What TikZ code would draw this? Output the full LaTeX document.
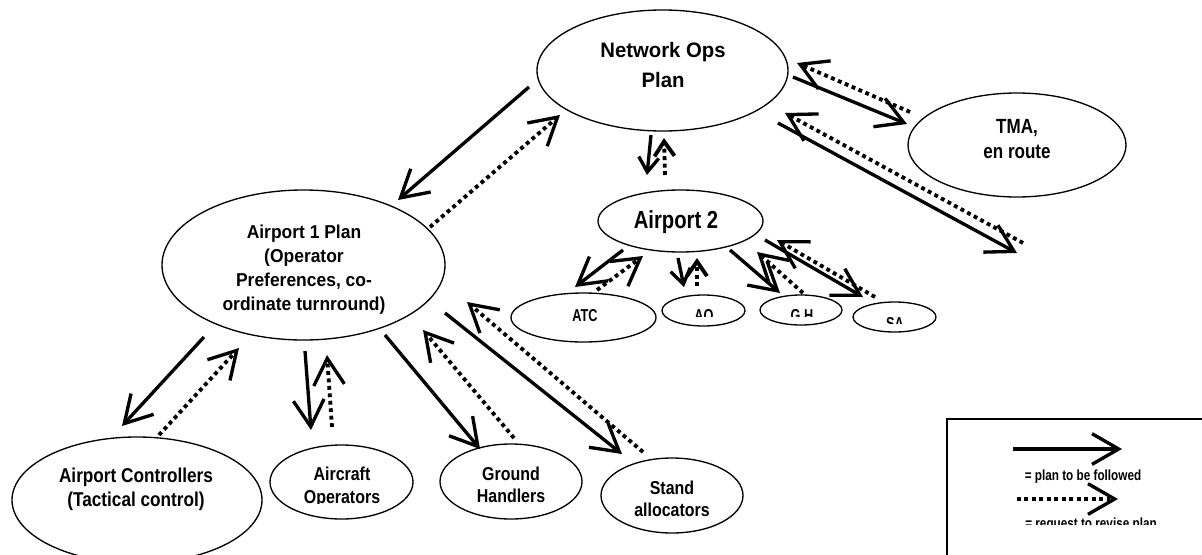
\documentclass[tikz,border=0pt]{standalone}
\usepackage{fontspec}
\setmainfont{Liberation Sans}
\usetikzlibrary{arrows.meta,shapes.geometric}

% Condensed bold faces for the labels
\newfontfamily\famNet[FakeStretch=0.97]{Liberation Sans}
\newfontfamily\famAone[FakeStretch=0.935]{Liberation Sans}
\newfontfamily\famAtwo[FakeStretch=0.82]{Liberation Sans}
\newfontfamily\famTma[FakeStretch=0.83]{Liberation Sans}
\newfontfamily\famCtl[FakeStretch=0.86]{Liberation Sans}
\newfontfamily\famBig[FakeStretch=0.855]{Liberation Sans}
\newfontfamily\famSmall[FakeStretch=0.74]{Liberation Sans}
\newfontfamily\famKey[FakeStretch=0.8]{Liberation Sans}

\tikzset{
  oval/.style 2 args={draw, ellipse, line width=1pt,
    minimum width=#1*0.75pt, minimum height=#2*0.75pt, inner sep=0pt},
  % labels are placed by the baseline of their last line
  lbl/.style={align=center, inner sep=0pt, anchor=base},
  tNet/.style={lbl, font=\famNet\bfseries\fontsize{15.7}{22.5}\selectfont},
  tAone/.style={lbl, font=\famAone\bfseries\fontsize{14}{18.2}\selectfont},
  tAtwo/.style={lbl, font=\famAtwo\bfseries\fontsize{18.5}{22}\selectfont},
  tTma/.style={lbl, font=\famTma\bfseries\fontsize{15.4}{18.75}\selectfont},
  tCtl/.style={lbl, font=\famCtl\bfseries\fontsize{15}{18}\selectfont},
  tBig/.style={lbl, font=\famBig\bfseries\fontsize{14}{17}\selectfont},
  tSmall/.style={lbl, font=\famSmall\bfseries\fontsize{12.9}{15}\selectfont},
  tKey/.style={lbl, font=\famKey\bfseries\fontsize{11}{13}\selectfont},
  plan/.style={line width=2.5pt, -{Straight Barb[length=20pt, width=23pt]}},
  revise/.style={line width=2.9pt, dash pattern=on 2.9pt off 2.7pt,
    -{Straight Barb[length=20pt, width=23pt, line width=2.5pt]}},
  small tip/.style={-{Straight Barb[length=11pt, width=15pt]}}
}

\begin{document}
\begin{tikzpicture}[x=0.75pt, y=-0.75pt]
\fill[white] (0,0) rectangle (1202,554);
\useasboundingbox (0,0) rectangle (1202,554);

% ---------- plan ovals ----------
\node[oval={251}{121}] (no)   at (662.5,70.5) {};
\node[oval={218}{104}] (tma)  at (1017,145) {};
\node[oval={165}{62}]  (ap2)  at (680.5,221) {};
\node[oval={283}{150}] (ap1)  at (303.5,265) {};
\node[oval={145}{49}]  (atc)  at (583.5,317.5) {};
\node[oval={83}{31}]   (ao2)  at (703.5,310.5) {};
\node[oval={82}{30}]   (gh2)  at (801,310) {};
\node[oval={83}{30}]   (sa2)  at (894.5,317) {};
\node[oval={250}{126}] (ctl)  at (137,500) {};
\node[oval={143}{74}]  (aco)  at (341.5,482) {};
\node[oval={142}{75}]  (gnd)  at (511,481.5) {};
\node[oval={142}{75}]  (std)  at (672,495.5) {};

% ---------- labels ----------
\node[tNet]  (noT)  at (663,87) {Network Ops\\Plan};
\node[tTma]  (tmaT) at (1017,158.7) {TMA,\\en route};
\node[tAtwo] (ap2T) at (676,228.3) {Airport 2};
\node[tAone] (ap1T) at (304,310.9) {Airport 1 Plan\\(Operator\\Preferences, co-\\ordinate turnround)};
\node[tCtl]  (ctlT) at (136,506.7) {Airport Controllers\\(Tactical control)};
\begin{scope}
  \clip (260,440) rectangle (420,503.5);
  \node[tBig] (acoT) at (342,503.3) {Aircraft\\Operators};
\end{scope}
\node[tBig]  (gndT) at (511,502.7) {Ground\\Handlers};
\node[tBig]  (stdT) at (672,516.7) {Stand\\allocators};
\node[tSmall] (atcT) at (585,321.7) {ATC};
\begin{scope}
  \clip (660,300) rectangle (940,316.7);
  \node[tSmall] (ao2T) at (704,321.6) {AO};
  \node[tSmall] (gh2T) at (802,321.6) {G H};
\end{scope}
\begin{scope}
  \clip (860,305) rectangle (935,323.3);
  \node[tSmall] (sa2T) at (895,329) {SA};
\end{scope}

% ---------- key ----------
\draw[line width=1.5pt] (1210,419) -| (947,560);
\coordinate (k1a) at (1013,449); \coordinate (k1b) at (1122,449);
\coordinate (k2a) at (1017,499); \coordinate (k2b) at (1118,499);
\draw[plan]   (k1a) -- (k1b);
\draw[revise] (k2a) -- (k2b);
\node[tKey] (key1) at (1083,480) {= plan to be followed};
\begin{scope}
  \clip (1000,515) rectangle (1180,524);
  \node[tKey] (key2) at (1091,528.3) {= request to revise plan};
\end{scope}

% ---------- arrow end points ----------
\coordinate (noA1s) at (529,87);   \coordinate (noA1e) at (398,200);
\coordinate (a1Nos) at (430,227);  \coordinate (a1Noe) at (560,115);
\coordinate (noA2s) at (651,135);  \coordinate (noA2e) at (647,175);
\coordinate (a2Nos) at (665,175);  \coordinate (a2Noe) at (664,138);
\coordinate (noTms) at (793,77);   \coordinate (noTme) at (907,124);
\coordinate (tmNos) at (910,112);  \coordinate (tmNoe) at (797,63);
\coordinate (noOfs) at (778,123);  \coordinate (offE)  at (1017,253);
\coordinate (offS)  at (1023,243); \coordinate (ofNoe) at (785,113);

\coordinate (a2Ats) at (623,250);  \coordinate (a2Ate) at (575,287);
\coordinate (atA2s) at (597,290);  \coordinate (atA2e) at (643,256);
\coordinate (a2Aos) at (678,258);  \coordinate (a2Aoe) at (684,287);
\coordinate (aoA2s) at (697,286);  \coordinate (aoA2e) at (697,258);
\coordinate (a2Ghs) at (730,250);  \coordinate (a2Ghe) at (780,293);
\coordinate (ghA2s) at (803,293);  \coordinate (ghA2e) at (757,252);
\coordinate (a2Sas) at (765,240);  \coordinate (a2Sae) at (863,297);
\coordinate (saA2s) at (875,297);  \coordinate (saA2e) at (777,240);

\coordinate (a1Cts) at (204,337);  \coordinate (a1Cte) at (122,426);
\coordinate (ctA1s) at (159,435);  \coordinate (ctA1e) at (239,348);
\coordinate (a1Aos) at (305,351);  \coordinate (a1Aoe) at (311,430);
\coordinate (aoA1s) at (332,427);  \coordinate (aoA1e) at (327,355);
\coordinate (a1Ghs) at (385,335);  \coordinate (a1Ghe) at (480,449);
\coordinate (ghA1s) at (514,438);  \coordinate (ghA1e) at (423,330);
\coordinate (a1Sas) at (445,313);  \coordinate (a1Sae) at (622,454);
\coordinate (saA1s) at (643,452);  \coordinate (saA1e) at (467,302);

% ---------- network level ----------
\draw[plan]   (noA1s) -- (noA1e);
\draw[revise] (a1Nos) -- (a1Noe);
\draw[plan, small tip]   (noA2s) -- (noA2e);
\draw[revise, small tip] (a2Nos) -- (a2Noe);
\draw[plan]   (noTms) -- (noTme);
\draw[revise] (tmNos) -- (tmNoe);
\draw[plan]   (noOfs) -- (offE);
\draw[revise] (offS) -- (ofNoe);

% ---------- airport 2 level ----------
\draw[plan]   (a2Ats) -- (a2Ate);
\draw[revise] (atA2s) -- (atA2e);
\draw[plan, small tip]   (a2Aos) -- (a2Aoe);
\draw[revise, small tip] (aoA2s) -- (aoA2e);
\draw[plan]   (a2Ghs) -- (a2Ghe);
\draw[revise] (ghA2s) -- (ghA2e);
\draw[plan]   (a2Sas) -- (a2Sae);
\draw[revise] (saA2s) -- (saA2e);

% ---------- airport 1 level ----------
\draw[plan]   (a1Cts) -- (a1Cte);
\draw[revise] (ctA1s) -- (ctA1e);
\draw[plan]   (a1Aos) -- (a1Aoe);
\draw[revise] (aoA1s) -- (aoA1e);
\draw[plan]   (a1Ghs) -- (a1Ghe);
\draw[revise] (ghA1s) -- (ghA1e);
\draw[plan]   (a1Sas) -- (a1Sae);
\draw[revise] (saA1s) -- (saA1e);
\end{tikzpicture}
\end{document}
